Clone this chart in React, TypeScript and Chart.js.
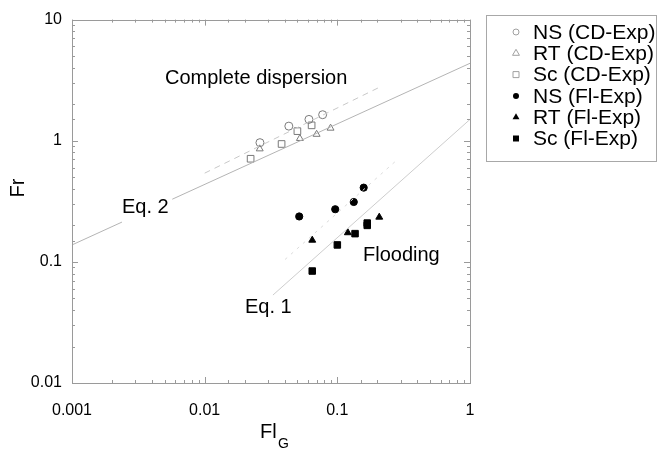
import React, { useEffect, useRef } from "react";
import { Chart, registerables } from "chart.js";

Chart.register(...registerables);

// ---- data ----
const nsCdFl = [0.0261, 0.0431, 0.0611, 0.0775];
const nsCdFr = [0.964, 1.32, 1.5, 1.64];
const rtCdFl = [0.026, 0.0522, 0.0698, 0.0889];
const rtCdFr = [0.857, 1.044, 1.13, 1.27];
const scCdFl = [0.0222, 0.038, 0.05, 0.064];
const scCdFr = [0.71, 0.94, 1.2, 1.34];

const nsFlFl = [0.0516, 0.0964, 0.133, 0.158];
const nsFlFr = [0.237, 0.272, 0.312, 0.41];
const rtFlFl = [0.0647, 0.12, 0.207];
const rtFlFr = [0.151, 0.174, 0.234];
const scFlFl = [0.0647, 0.1, 0.136, 0.168, 0.168];
const scFlFr = [0.084, 0.138, 0.171, 0.209, 0.2];

// fitted / correlation lines (end points)
const eq2LeftFl = [0.001, 0.00238];
const eq2LeftFr = [0.138, 0.213];
const eq2RightFl = [0.0057, 1];
const eq2RightFr = [0.329, 4.36];
const cdFitFl = [0.01, 0.21];
const cdFitFr = [0.54, 2.78];
const eq1Fl = [0.0327, 1];
const eq1Fr = [0.0532, 1.5];
const flFitFl = [0.0403, 0.28];
const flFitFr = [0.1045, 0.69];

const xTickLabels = ["0.001", "0.01", "0.1", "1"];
const yTickLabels = ["0.01", "0.1", "1", "10"];

const legendLabels = [
  "NS (CD-Exp)",
  "RT (CD-Exp)",
  "Sc (CD-Exp)",
  "NS (Fl-Exp)",
  "RT (Fl-Exp)",
  "Sc (Fl-Exp)",
];

const FONT = "'Liberation Sans', Arial, Helvetica, sans-serif";

const pts = (xs: number[], ys: number[]) => xs.map((x, i) => ({ x, y: ys[i] }));

const isDecade = (v: number) => {
  const l = Math.log10(v);
  return Math.abs(l - Math.round(l)) < 1e-6;
};
const decadeLabel = (v: number, list: string[]) => {
  if (!isDecade(v)) return "";
  const s = String(Number(v.toPrecision(1)));
  return list.includes(s) ? s : "";
};

function drawMarker(
  ctx: CanvasRenderingContext2D,
  style: string,
  x: number,
  y: number,
  r: number,
  filled: boolean,
  color: string
) {
  ctx.save();
  ctx.beginPath();
  if (style === "circle") {
    ctx.arc(x, y, r, 0, Math.PI * 2);
  } else if (style === "triangle") {
    ctx.moveTo(x, y - r);
    ctx.lineTo(x + r * 0.866, y + r * 0.5);
    ctx.lineTo(x - r * 0.866, y + r * 0.5);
    ctx.closePath();
  } else {
    ctx.rect(x - r, y - r, 2 * r, 2 * r);
  }
  if (filled) {
    ctx.fillStyle = color;
    ctx.fill();
  } else {
    ctx.strokeStyle = color;
    ctx.lineWidth = 1;
    ctx.stroke();
  }
  ctx.restore();
}

const decorPlugin = {
  id: "decor",
  afterDatasetsDraw(chart: any) {
    const { ctx, chartArea: ca, scales } = chart;
    const xs = scales.x;
    const ys = scales.y;
    ctx.save();
    ctx.strokeStyle = "#9a9a9a";
    ctx.lineWidth = 1;
    ctx.strokeRect(
      Math.round(ca.left) + 0.5,
      Math.round(ca.top) + 0.5,
      Math.round(ca.right - ca.left),
      Math.round(ca.bottom - ca.top)
    );
    ctx.beginPath();
    xs.ticks.forEach((t: any) => {
      const p = Math.round(xs.getPixelForValue(t.value)) + 0.5;
      const len = isDecade(t.value) ? 6 : 3;
      ctx.moveTo(p, ca.bottom);
      ctx.lineTo(p, ca.bottom - len);
      ctx.moveTo(p, ca.top);
      ctx.lineTo(p, ca.top + len);
    });
    ys.ticks.forEach((t: any) => {
      const p = Math.round(ys.getPixelForValue(t.value)) + 0.5;
      const len = isDecade(t.value) ? 6 : 3;
      ctx.moveTo(ca.left, p);
      ctx.lineTo(ca.left + len, p);
      ctx.moveTo(ca.right, p);
      ctx.lineTo(ca.right - len, p);
    });
    ctx.stroke();
    ctx.restore();
  },
  afterDraw(chart: any) {
    const { ctx } = chart;
    ctx.save();
    ctx.fillStyle = "#000";
    ctx.textBaseline = "alphabetic";
    ctx.textAlign = "left";
    ctx.font = `20px ${FONT}`;
    ctx.fillText("Complete dispersion", 165, 84);
    ctx.fillText("Eq. 2", 122, 213);
    ctx.fillText("Eq. 1", 245, 313);
    ctx.fillText("Flooding", 363, 261);

    // axis titles
    ctx.font = `20px ${FONT}`;
    ctx.fillText("Fl", 260, 438);
    ctx.font = `14px ${FONT}`;
    ctx.fillText("G", 278, 448);
    ctx.save();
    ctx.translate(24, 188);
    ctx.rotate(-Math.PI / 2);
    ctx.textAlign = "center";
    ctx.font = `20px ${FONT}`;
    ctx.fillText("Fr", 0, 0);
    ctx.restore();

    // legend
    ctx.strokeStyle = "#a8a8a8";
    ctx.lineWidth = 1;
    ctx.strokeRect(486.5, 15.5, 170, 146);
    const styles = ["circle", "triangle", "rect", "circle", "triangle", "rect"];
    ctx.font = `21px ${FONT}`;
    ctx.textBaseline = "middle";
    legendLabels.forEach((lab, i) => {
      const y = 32 + i * 21.3;
      const filled = i >= 3;
      const r = styles[i] === "triangle" ? 4 : 3;
      drawMarker(ctx, styles[i], 516, y, r, filled, filled ? "#000" : "#a0a0a0");
      ctx.fillStyle = "#000";
      ctx.fillText(lab, 533, y + 1);
    });
    ctx.restore();
  },
};

const lineDs = (data: any[], color: string, dash: number[] = []) => ({
  data,
  showLine: true,
  pointRadius: 0,
  borderColor: color,
  borderWidth: 1,
  borderDash: dash,
  backgroundColor: "transparent",
  fill: false,
});

const markerDs = (data: any[], style: string, radius: number, filled: boolean) => ({
  data,
  showLine: false,
  pointStyle: style,
  pointRadius: radius,
  pointBorderWidth: 1,
  pointBorderColor: filled ? "#000" : "#7a7a7a",
  pointBackgroundColor: filled ? "#000" : "rgba(255,255,255,0)",
});

export default function App() {
  const ref = useRef<HTMLCanvasElement | null>(null);
  useEffect(() => {
    if (!ref.current) return;
    const chart = new Chart(ref.current, {
      type: "scatter",
      data: {
        datasets: [
          lineDs(pts(eq2LeftFl, eq2LeftFr), "#b4b4b4"),
          lineDs(pts(eq2RightFl, eq2RightFr), "#b4b4b4"),
          lineDs(pts(cdFitFl, cdFitFr), "#c8c8c8", [6, 5]),
          lineDs(pts(eq1Fl, eq1Fr), "#cdcdcd"),
          lineDs(pts(flFitFl, flFitFr), "#dcdcdc", [3, 5]),
          markerDs(pts(nsCdFl, nsCdFr), "circle", 4, false),
          markerDs(pts(rtCdFl, rtCdFr), "triangle", 4, false),
          markerDs(pts(scCdFl, scCdFr), "rect", 4.7, false),
          markerDs(pts(nsFlFl, nsFlFr), "circle", 3.6, true),
          markerDs(pts(rtFlFl, rtFlFr), "triangle", 4, true),
          markerDs(pts(scFlFl, scFlFr), "rect", 4.6, true),
        ] as any,
      },
      options: {
        responsive: false,
        animation: false,
        layout: { padding: { left: 0, top: 11, right: 189, bottom: 0 } },
        plugins: { legend: { display: false }, tooltip: { enabled: false } },
        scales: {
          x: {
            type: "logarithmic",
            min: 0.001,
            max: 1,
            grid: { display: false, drawTicks: false },
            border: { display: false },
            ticks: {
              autoSkip: false,
              maxRotation: 0,
              padding: 18,
              color: "#000",
              font: { family: FONT, size: 16 },
              callback: (v: any) => decadeLabel(Number(v), xTickLabels),
            },
            afterFit: (s: any) => {
              s.height = 67;
            },
          },
          y: {
            type: "logarithmic",
            min: 0.01,
            max: 10,
            grid: { display: false, drawTicks: false },
            border: { display: false },
            ticks: {
              autoSkip: false,
              padding: 10,
              color: "#000",
              font: { family: FONT, size: 16 },
              callback: (v: any) => decadeLabel(Number(v), yTickLabels),
            },
            afterFit: (s: any) => {
              s.width = 72;
            },
          },
        },
      } as any,
      plugins: [decorPlugin],
    });
    return () => chart.destroy();
  }, []);
  return (
    <div style={{ position: "fixed", left: 0, top: 0, width: 659, height: 450, background: "#fff" }}>
      <canvas ref={ref} width={659} height={450} style={{ width: 659, height: 450 }} />
    </div>
  );
}
